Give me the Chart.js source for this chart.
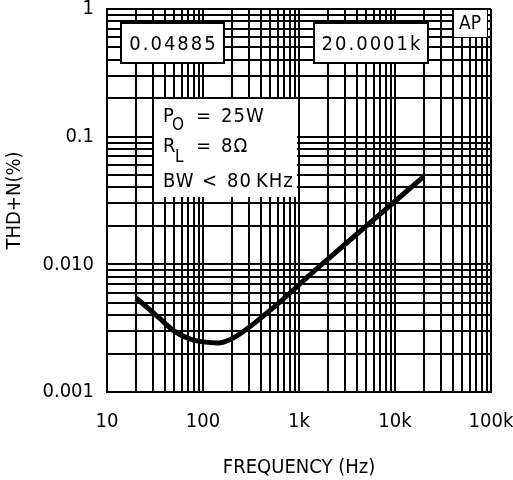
<!DOCTYPE html>
<html><head><meta charset="utf-8">
<script src="https://cdn.jsdelivr.net/npm/chart.js@4/dist/chart.umd.min.js"></script>
<style>html,body{margin:0;padding:0;background:#fff;overflow:hidden;}</style>
</head><body>
<canvas id="c" width="513" height="480" style="width:513px;height:480px;display:block"></canvas>
<script>
// ---- data ----
const frequencyHz = [20, 25, 35, 50, 75, 100, 145, 185, 250, 380, 560, 840, 1300, 2000, 5000, 10000, 20000];
const thdNPercent = [0.00545, 0.00474, 0.0038, 0.0030, 0.00258, 0.00247, 0.00242, 0.00254, 0.0029, 0.00368, 0.00468, 0.00613, 0.00828, 0.0110, 0.0199, 0.0312, 0.0489];
const xTickValues = [10, 100, 1000, 10000, 100000];
const xTickLabels = ['10', '100', '1k', '10k', '100k'];
const yTickValues = [0.001, 0.01, 0.1, 1];
const yTickLabels = ['0.001', '0.010', '0.1', '1'];
const readouts = ['0.04885', '20.0001k'];
const xTitle = 'FREQUENCY (Hz)';
const yTitle = 'THD+N(%)';

const FAM = '"DejaVu Sans Condensed", "DejaVu Sans", sans-serif';

function logGrid(min, max) {
  const t = [];
  for (let e = Math.floor(Math.log10(min)); e <= Math.ceil(Math.log10(max)); e++) {
    for (let k = 1; k <= 9; k++) {
      const v = k * Math.pow(10, e);
      if (v >= min * 0.999999 && v <= max * 1.000001) t.push({ value: v, major: k === 1 });
    }
  }
  return t;
}
function labelFor(values, labels, v) {
  for (let i = 0; i < values.length; i++) {
    if (Math.abs(Math.log10(v) - Math.log10(values[i])) < 1e-6) return labels[i];
  }
  return '';
}

const overlay = {
  id: 'overlay',
  beforeDatasetsDraw(chart) {
    const ctx = chart.ctx, a = chart.chartArea;
    ctx.save();
    ctx.fillStyle = '#fff';
    // conditions panel (white, no border)
    ctx.fillRect(a.left + 47, a.top + 90, 143, 98);
    // AP tag
    ctx.fillRect(a.left + 347, a.top + 1, 33, 27);
    // readout boxes
    ctx.strokeStyle = '#000';
    ctx.lineWidth = 2;
    const boxes = [[a.left + 14, 103, readouts[0]], [a.left + 207, 114, readouts[1]]];
    ctx.font = '20px ' + FAM;
    ctx.textAlign = 'center';
    ctx.textBaseline = 'alphabetic';
    for (const [x, w, txt] of boxes) {
      ctx.fillStyle = '#fff';
      ctx.fillRect(x, a.top + 14, w, 40);
      ctx.strokeRect(x, a.top + 14, w, 40);
      ctx.fillStyle = '#000';
      ctx.letterSpacing = '2px';
      ctx.fillText(txt, x + w / 2 + 1, a.top + 41);
    }
    ctx.letterSpacing = '0px';
    ctx.fillStyle = '#000';
    ctx.textAlign = 'left';
    ctx.font = '19px ' + FAM;
    ctx.fillText('AP', a.left + 352, a.top + 20);

    // conditions text
    const L = a.left, T = a.top;
    ctx.font = '20px ' + FAM;
    ctx.letterSpacing = '1px';
    ctx.fillText('P', L + 56, T + 113);
    ctx.fillText('=', L + 89, T + 113);
    ctx.fillText('25W', L + 114, T + 113);
    ctx.fillText('R', L + 56, T + 143);
    ctx.fillText('=', L + 89, T + 143);
    ctx.fillText('8\u03A9', L + 114, T + 143);
    ctx.fillText('BW', L + 56, T + 178);
    ctx.fillText('<', L + 95, T + 178);
    ctx.fillText('80', L + 120, T + 178);
    ctx.fillText('KHz', L + 149, T + 178);
    ctx.font = '17px ' + FAM;
    ctx.fillText('O', L + 65, T + 121);
    ctx.fillText('L', L + 68, T + 153);
    ctx.restore();
  }
};

new Chart(document.getElementById('c'), {
  type: 'line',
  data: {
    datasets: [{
      data: frequencyHz.map((f, i) => ({ x: f, y: thdNPercent[i] })),
      borderColor: '#000',
      borderWidth: 5,
      borderCapStyle: 'butt',
      pointRadius: 0,
      cubicInterpolationMode: 'monotone',
      fill: false
    }]
  },
  options: {
    responsive: false,
    animation: false,
    devicePixelRatio: 1,
    layout: { padding: { top: 9, right: 22, left: 0, bottom: 0 } },
    plugins: { legend: { display: false }, tooltip: { enabled: false } },
    scales: {
      x: {
        type: 'logarithmic',
        min: 10, max: 100000,
        afterBuildTicks: s => { s.ticks = logGrid(10, 100000); },
        afterFit: s => { s.height = 88; s.paddingLeft = 0; s.paddingRight = 0; },
        grid: { color: '#000', lineWidth: 2, drawTicks: false },
        border: { color: '#000', width: 2 },
        ticks: {
          autoSkip: false, maxRotation: 0, minRotation: 0, padding: 18,
          color: '#000', font: { size: 20, family: FAM },
          callback: v => labelFor(xTickValues, xTickLabels, v)
        },
        title: { display: true, text: xTitle, color: '#000', font: { size: 20, family: FAM }, padding: { top: 0, bottom: 0 } }
      },
      y: {
        type: 'logarithmic',
        min: 0.001, max: 1,
        afterBuildTicks: s => { s.ticks = logGrid(0.001, 1); },
        afterFit: s => { s.width = 107; s.paddingTop = 0; s.paddingBottom = 0; },
        grid: { color: '#000', lineWidth: 2, drawTicks: false },
        border: { color: '#000', width: 2 },
        ticks: {
          autoSkip: false, padding: 13,
          color: '#000', font: { size: 20, family: FAM },
          callback: v => labelFor(yTickValues, yTickLabels, v)
        },
        title: { display: true, text: yTitle, color: '#000', font: { size: 20, family: FAM }, padding: { top: 3, bottom: 0 } }
      }
    }
  },
  plugins: [overlay]
});
</script>
</body></html>
